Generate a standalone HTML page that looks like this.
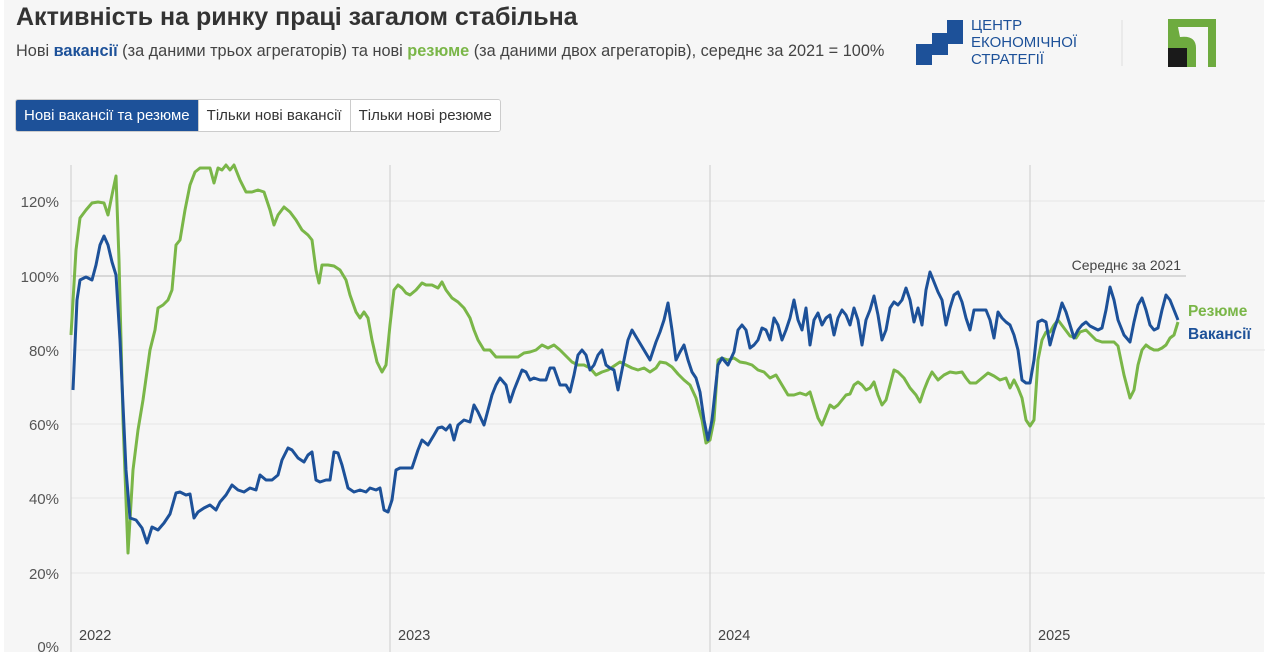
<!DOCTYPE html><html><head><meta charset="utf-8"><style>
body{margin:0;width:1280px;height:652px;overflow:hidden;background:#fff;font-family:"Liberation Sans",sans-serif;position:relative}
#p{position:absolute;left:4px;top:0;width:1260px;height:652px;background:#f6f6f6}
.t{position:absolute;left:16px;top:3px;font-size:25px;font-weight:bold;color:#333}
.s{position:absolute;left:16px;top:42px;font-size:16.3px;color:#444}
.btns{position:absolute;left:15px;top:99px;display:flex;border:1px solid #ccc;border-radius:3px;overflow:hidden;font-size:15px}
.btns div{padding:7px 8px;background:#fff;color:#333;border-left:1px solid #ccc}
.btns div:first-child{background:#1d5199;color:#fff;border:0}
</style></head><body><div id="p"></div>
<div class="t">Активність на ринку праці загалом стабільна</div>
<div class="s">Нові <b style="color:#1d5199">вакансії</b> (за даними трьох агрегаторів) та нові <b style="color:#7ab648">резюме</b> (за даними двох агрегаторів), середнє за 2021 = 100%</div>
<div class="btns"><div>Нові вакансії та резюме</div><div>Тільки нові вакансії</div><div>Тільки нові резюме</div></div>
<svg style="position:absolute;left:0;top:0" width="1280" height="652">
<g fill="#1d5199"><rect x="916" y="44" width="16" height="21"/><rect x="932" y="33" width="16" height="22"/><rect x="947" y="20" width="16" height="24"/><rect x="932" y="44" width="10" height="11"/></g>
<text x="971" y="30" font-size="15" fill="#1d5199" font-family="Liberation Sans">ЦЕНТР</text>
<text x="971" y="47" font-size="15" fill="#1d5199" font-family="Liberation Sans">ЕКОНОМІЧНОЇ</text>
<text x="971" y="64" font-size="15" fill="#1d5199" font-family="Liberation Sans">СТРАТЕГІЇ</text>
<line x1="1122" y1="20" x2="1122" y2="66" stroke="#ddd"/>
<rect x="1168" y="19" width="48" height="48" fill="#6eab3f"/><path d="M1178 27 H1208 V67 H1196 V48 Q1196 35 1180 37 Z" fill="#f6f6f6"/><rect x="1168" y="48" width="19" height="19" fill="#1a1a1a"/>
<g stroke="#e6e6e6"><line x1="71" y1="573" x2="1265" y2="573"/><line x1="71" y1="498" x2="1265" y2="498"/><line x1="71" y1="424" x2="1265" y2="424"/><line x1="71" y1="350" x2="1265" y2="350"/><line x1="71" y1="201" x2="1265" y2="201"/></g>
<g stroke="#ccc"><line x1="71" y1="165" x2="71" y2="652"/><line x1="390" y1="165" x2="390" y2="652"/><line x1="710" y1="165" x2="710" y2="652"/><line x1="1030" y1="165" x2="1030" y2="652"/></g>
<line x1="71" y1="276" x2="1186" y2="276" stroke="#bbb"/>
<text x="1181" y="270" font-size="14" fill="#444" text-anchor="end">Середнє за 2021</text>
<g font-size="15" fill="#555" text-anchor="end"><text x="59" y="207">120%</text><text x="59" y="282">100%</text><text x="59" y="356">80%</text><text x="59" y="430">60%</text><text x="59" y="504">40%</text><text x="59" y="579">20%</text><text x="59" y="652">0%</text></g>
<g font-size="14.5" fill="#444"><text x="79" y="640">2022</text><text x="398" y="640">2023</text><text x="718" y="640">2024</text><text x="1038" y="640">2025</text></g>
<polyline fill="none" stroke="#7ab648" stroke-width="3" stroke-linejoin="round" points="71,335 76,250 80,218 86,210 92,203 98,202 104,203 108,215 112,195 116,176 119,260 123,420 128,553 133,470 138,430 143,400 150,350 155,330 158,308 163,305 168,300 172,290 176,245 180,240 185,210 190,185 195,172 200,168 206,168 210,168 214,183 218,168 222,170 226,165 230,170 234,165 240,180 246,192 252,192 258,190 264,192 270,210 274,225 278,215 284,207 290,212 296,220 302,230 308,235 312,240 316,270 319,283 322,265 328,265 334,266 340,270 346,280 350,295 356,312 360,318 364,312 368,318 372,340 377,362 382,372 386,365 390,325 394,290 398,285 402,288 406,293 410,295 416,290 422,283 426,285 432,285 438,288 442,282 446,290 452,298 458,302 464,308 470,318 474,330 478,340 484,350 490,350 496,357 502,357 510,357 518,357 524,353 530,352 536,350 542,345 548,348 554,345 560,350 566,356 572,362 578,365 584,365 590,368 596,375 602,372 608,370 614,366 620,362 626,365 632,368 638,370 644,368 650,372 656,368 660,362 666,363 672,367 678,374 684,380 690,385 696,398 702,420 706,443 710,440 714,420 718,360 722,358 728,360 734,358 740,362 746,363 752,365 758,370 764,372 770,378 776,375 782,385 788,395 794,395 800,393 806,395 810,392 814,405 818,418 822,425 826,415 830,405 834,408 838,405 842,400 846,395 850,394 854,385 858,382 862,385 866,390 870,388 874,382 878,395 882,405 886,400 890,385 894,370 898,372 904,378 910,388 916,395 920,402 924,390 928,380 932,372 938,380 944,375 950,372 956,373 962,372 966,378 970,383 976,383 982,378 988,373 994,376 1000,380 1006,378 1010,388 1014,380 1018,388 1022,398 1026,420 1030,426 1034,420 1038,360 1042,340 1046,332 1050,332 1054,325 1058,320 1064,328 1070,336 1076,338 1080,332 1086,330 1092,336 1096,340 1102,342 1108,342 1114,342 1118,346 1124,375 1130,398 1134,390 1138,365 1142,350 1146,345 1150,348 1154,350 1158,350 1162,348 1166,345 1170,338 1174,335 1178,322"/>
<polyline fill="none" stroke="#1d5199" stroke-width="3" stroke-linejoin="round" points="73,390 77,300 80,280 86,277 92,280 96,265 100,245 104,236 108,245 112,262 116,275 120,340 126,470 130,518 136,520 142,528 147,543 152,527 158,530 164,523 170,514 176,493 180,492 186,495 190,494 194,518 198,512 204,508 210,505 216,510 220,502 226,495 232,485 238,490 244,492 250,488 256,490 260,475 266,480 272,480 278,475 282,460 288,448 292,450 298,458 304,462 308,455 312,452 316,480 320,482 326,480 330,480 334,452 338,453 342,465 348,488 354,492 360,490 366,492 370,488 376,490 380,488 384,510 388,512 392,500 396,470 400,468 406,468 412,468 418,450 422,440 428,445 434,435 438,428 442,427 446,430 450,425 454,440 458,425 464,420 470,422 474,405 478,412 484,425 488,410 492,395 496,385 500,378 506,385 510,402 514,390 518,380 522,370 526,372 530,380 534,378 540,380 546,380 550,368 554,368 560,385 566,385 570,392 574,375 578,355 582,350 586,355 590,370 594,365 598,355 602,350 606,365 610,368 614,370 618,390 622,370 628,340 632,330 638,340 644,350 650,360 656,342 660,332 664,320 668,303 672,330 676,360 680,352 684,345 688,360 692,372 696,378 700,392 704,420 708,440 712,420 718,365 722,358 728,365 734,352 738,330 742,325 746,330 750,348 754,345 758,340 762,328 766,330 770,340 774,318 778,325 782,340 786,330 790,318 794,300 798,320 802,330 806,308 810,345 814,320 818,313 822,325 826,318 830,315 834,335 838,318 842,310 846,315 850,325 854,308 858,320 862,345 866,320 870,310 874,296 878,315 882,340 886,330 890,308 894,302 898,305 902,300 906,288 910,300 914,322 918,308 922,325 926,290 930,272 934,282 938,292 942,300 946,325 950,308 954,295 958,292 962,302 966,318 970,330 974,310 978,310 982,310 986,310 990,320 994,338 998,312 1002,318 1006,322 1010,325 1014,335 1018,350 1022,380 1026,383 1030,383 1034,360 1038,322 1042,320 1046,322 1050,345 1054,330 1058,318 1062,303 1066,312 1070,325 1074,338 1078,330 1082,325 1086,322 1090,326 1094,328 1098,330 1102,328 1106,310 1110,287 1114,300 1118,320 1124,335 1130,342 1134,322 1138,305 1142,298 1146,310 1150,325 1154,330 1158,328 1162,310 1166,295 1170,300 1174,310 1178,320"/>
<text x="1188" y="316" font-size="15.5" font-weight="bold" fill="#7ab648">Резюме</text>
<text x="1188" y="339" font-size="15.5" font-weight="bold" fill="#1d5199">Вакансії</text>
</svg></body></html>
